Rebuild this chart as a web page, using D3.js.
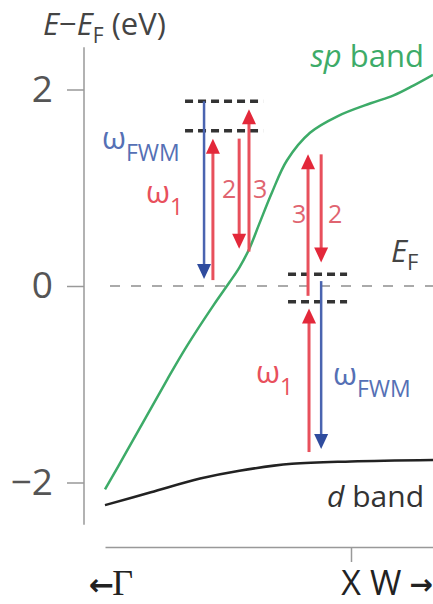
<!DOCTYPE html>
<html>
<head>
<meta charset="utf-8">
<script src="https://cdn.jsdelivr.net/npm/d3@7/dist/d3.min.js"></script>
<style>
  body { margin: 0; background: #fff; }
  text { font-family: "Open Sans", "Noto Sans", sans-serif; }
</style>
</head>
<body>
<div id="chart"></div>
<script>
const width = 433;
const height = 604;

// band structure (k along path, 0 = Γ side, 1 = right edge)
const spK = [0, 0.06, 0.19, 0.25, 0.33, 0.38, 0.41, 0.44, 0.47, 0.51, 0.555, 0.625, 0.71, 0.81, 0.88, 0.94, 1.0];
const spBand = [-2.07, -1.72, -0.95, -0.61, -0.20, 0.04, 0.19, 0.38, 0.63, 0.96, 1.28, 1.56, 1.73, 1.86, 1.94, 2.04, 2.15];
const dK = [0, 0.14, 0.29, 0.41, 0.57, 0.75, 1.0];
const dBand = [-2.23, -2.10, -1.96, -1.88, -1.81, -1.785, -1.77];

const yTicks = [-2, 0, 2];
const xTicks = [0.75];

// optical transitions
const arrowKind = ['fwm', 'w1', 'w', 'w', 'w', 'w', 'fwm', 'w1'];
const arrowK = [0.302, 0.329, 0.409, 0.439, 0.619, 0.659, 0.659, 0.622];
const arrowFrom = [1.88, 0.06, 1.50, 0.35, -0.10, 1.34, 0.05, -1.69];
const arrowTo = [0.07, 1.50, 0.38, 1.80, 1.34, 0.24, -1.66, -0.23];

// virtual levels
const levelE = [1.88, 1.58, 0.12, -0.16];
const levelK0 = [0.244, 0.244, 0.558, 0.558];
const levelK1 = [0.482, 0.482, 0.738, 0.738];

const green = '#3dab68';
const red = '#e8505c';
const redHead = '#e3283a';
const blue = '#4a64b0';
const blueHead = '#2f4c9e';

const svg = d3.select('#chart').append('svg')
  .attr('width', width)
  .attr('height', height);

const x = d3.scaleLinear().domain([0, 1]).range([105, 433]);
const y = d3.scaleLinear().domain([-2, 2]).range([482.5, 89.5]);

// y axis
const yAxis = d3.axisLeft(y).tickValues(yTicks).tickSize(17).tickPadding(14)
  .tickFormat(d => d < 0 ? '−' + Math.abs(d) : String(d));
const gy = svg.append('g').attr('transform', 'translate(84,0)').call(yAxis);
gy.select('.domain').remove();
gy.selectAll('.tick line').attr('stroke', '#999').attr('stroke-width', 1.5);
gy.selectAll('.tick text')
  .attr('fill', '#555')
  .style('font-size', '37px')
  .style('font-family', '"Open Sans", sans-serif');
gy.append('line')
  .attr('y1', y(2.43)).attr('y2', y(-2.43))
  .attr('stroke', '#999').attr('stroke-width', 1.5);

// x axis
const xAxis = d3.axisBottom(x).tickValues(xTicks).tickSize(15).tickSizeOuter(0).tickFormat('');
const gx = svg.append('g').attr('transform', 'translate(0,547)').call(xAxis);
gx.select('.domain').attr('stroke', '#999').attr('stroke-width', 1.5);
gx.selectAll('.tick line').attr('stroke', '#999').attr('stroke-width', 1.5);

svg.append('text')
  .attr('x', 89).attr('y', 595)
  .attr('fill', '#222')
  .style('font-size', '30px')
  .html('<tspan font-weight="bold" style="font-family: \'DejaVu Sans\', sans-serif">←</tspan><tspan dx="-2" style="font-family: \'Liberation Serif\', serif" font-size="36">Γ</tspan>');
svg.append('text')
  .attr('x', x(0.75)).attr('y', 595)
  .attr('text-anchor', 'middle')
  .attr('fill', '#222')
  .style('font-size', '34px')
  .text('X');
svg.append('text')
  .attr('x', 370).attr('y', 595)
  .attr('fill', '#222')
  .style('font-size', '34px')
  .text('W');
svg.append('text')
  .attr('x', 433).attr('y', 594)
  .attr('text-anchor', 'end')
  .attr('fill', '#222')
  .style('font-size', '28px')
  .style('font-weight', 'bold')
  .style('font-family', '"DejaVu Sans", sans-serif')
  .text('→');

// y title
svg.append('text')
  .attr('x', 43).attr('y', 35)
  .attr('fill', '#444')
  .style('font-size', '31px')
  .html('<tspan font-style="italic">E</tspan><tspan>−</tspan><tspan font-style="italic">E</tspan><tspan font-size="21" dy="8">F</tspan><tspan dy="-8"> (eV)</tspan>');

// Fermi level
svg.append('line')
  .attr('x1', 110).attr('x2', 433)
  .attr('y1', y(0)).attr('y2', y(0))
  .attr('stroke', '#aaa').attr('stroke-width', 2.2)
  .attr('stroke-dasharray', '10,11');

// bands
const line = d3.line().curve(d3.curveCatmullRom.alpha(0.5));
svg.append('path')
  .attr('d', line(dK.map((k, i) => [x(k), y(dBand[i])])))
  .attr('fill', 'none').attr('stroke', '#222').attr('stroke-width', 2.5);
svg.append('path')
  .attr('d', line(spK.map((k, i) => [x(k), y(spBand[i])])))
  .attr('fill', 'none').attr('stroke', green).attr('stroke-width', 2.5);

// virtual levels
svg.selectAll('.level')
  .data(levelE)
  .enter().append('line')
  .attr('class', 'level')
  .attr('x1', (d, i) => x(levelK0[i]))
  .attr('x2', (d, i) => x(levelK1[i]))
  .attr('y1', d => y(d)).attr('y2', d => y(d))
  .attr('stroke', '#333').attr('stroke-width', 3.5)
  .attr('stroke-dasharray', '8,5');

// arrows
const headLen = 15, headHalf = 7;
arrowK.forEach((k, i) => {
  const ax = x(k);
  const y0 = y(arrowFrom[i]);
  const y1 = y(arrowTo[i]);
  const dir = y1 > y0 ? 1 : -1;
  const isBlue = arrowKind[i] === 'fwm';
  svg.append('line')
    .attr('x1', ax).attr('x2', ax)
    .attr('y1', y0).attr('y2', y1 - dir * headLen * 0.8)
    .attr('stroke', isBlue ? blue : red)
    .attr('stroke-width', isBlue ? 2.5 : 3);
  svg.append('path')
    .attr('d', `M${ax},${y1} L${ax - headHalf},${y1 - dir * headLen} L${ax + headHalf},${y1 - dir * headLen} Z`)
    .attr('fill', isBlue ? blueHead : redHead);
});

// labels
function omega(xp, yp, sub, color) {
  svg.append('text')
    .attr('x', xp).attr('y', yp)
    .attr('fill', color)
    .style('font-size', '31px')
    .html(`<tspan>ω</tspan><tspan font-size="23" dy="12">${sub}</tspan>`);
}
omega(102, 149, 'FWM', '#5570b5');
omega(146, 203, '1', red);
omega(256, 383, '1', red);
omega(333, 385, 'FWM', '#5570b5');

const numLabels = [['2', 222, 198], ['3', 253, 198], ['3', 292, 223], ['2', 328, 223]];
numLabels.forEach(d => {
  svg.append('text')
    .attr('x', d[1]).attr('y', d[2])
    .attr('fill', '#e06470')
    .style('font-size', '25px')
    .text(d[0]);
});

svg.append('text')
  .attr('x', 391).attr('y', 262)
  .attr('fill', '#444')
  .style('font-size', '31px')
  .html('<tspan font-style="italic">E</tspan><tspan font-size="22" dy="8">F</tspan>');

svg.append('text')
  .attr('x', 424).attr('y', 67)
  .attr('text-anchor', 'end')
  .attr('fill', green)
  .style('font-size', '31px')
  .html('<tspan font-style="italic">sp</tspan> band');

svg.append('text')
  .attr('x', 424).attr('y', 507)
  .attr('text-anchor', 'end')
  .attr('fill', '#333')
  .style('font-size', '30px')
  .html('<tspan font-style="italic">d</tspan> band');
</script>
</body>
</html>
